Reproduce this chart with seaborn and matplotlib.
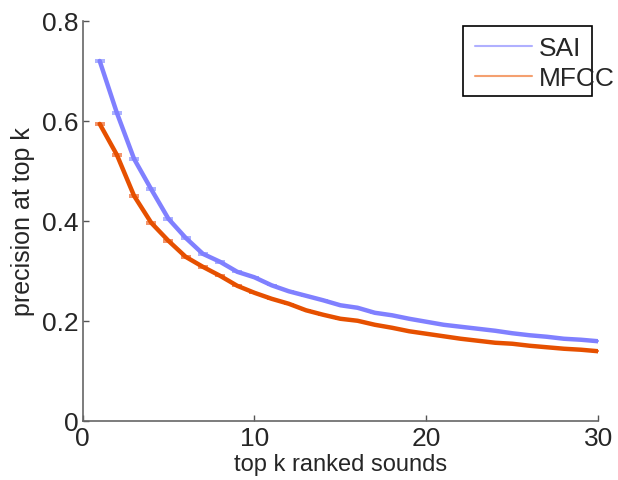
import numpy as np
import pandas as pd
import matplotlib
matplotlib.use("Agg")
import matplotlib.pyplot as plt
import seaborn as sns
from matplotlib.lines import Line2D
from matplotlib.patches import Rectangle

# precision at top k
k = list(range(1, 31))
sai = [0.720, 0.616, 0.524, 0.463, 0.404, 0.366, 0.334, 0.318, 0.298, 0.287,
       0.271, 0.259, 0.250, 0.241, 0.231, 0.226, 0.216, 0.211, 0.204, 0.198,
       0.192, 0.188, 0.184, 0.180, 0.175, 0.171, 0.168, 0.164, 0.162, 0.159]
mfcc = [0.594, 0.532, 0.450, 0.396, 0.360, 0.328, 0.308, 0.290, 0.270, 0.256,
        0.244, 0.234, 0.221, 0.212, 0.204, 0.200, 0.192, 0.186, 0.179, 0.174,
        0.169, 0.164, 0.160, 0.156, 0.154, 0.150, 0.147, 0.144, 0.142, 0.139]
sai_err = [0.002, 0.002, 0.002, 0.002, 0.002, 0.002, 0.002, 0.002, 0.001, 0.0,
           0, 0, 0, 0, 0, 0, 0, 0, 0, 0, 0, 0, 0, 0, 0, 0, 0, 0, 0, 0]
mfcc_err = [0.002, 0.002, 0.002, 0.002, 0.002, 0.002, 0.002, 0.001, 0.001, 0.0,
            0, 0, 0, 0, 0, 0, 0, 0, 0, 0, 0, 0, 0, 0, 0, 0, 0, 0, 0, 0]

sai_col = "#8080ff"
mfcc_col = "#e65000"

sns.set_style("ticks")
plt.rcParams["font.family"] = ["Liberation Sans", "DejaVu Sans"]

df = pd.DataFrame({
    "k": k + k,
    "precision": sai + mfcc,
    "method": ["SAI"] * 30 + ["MFCC"] * 30,
})

fig = plt.figure(figsize=(6.18, 4.81), dpi=100)
ax = fig.add_axes([0.1335, 0.1233, 0.8346, 0.831])

# small error bars (mostly hidden under the thick lines)
ax.errorbar(k, sai, yerr=sai_err, fmt="none", ecolor="#9ca4ff",
            elinewidth=1, capsize=3.3, capthick=1.2, zorder=1)
ax.errorbar(k, mfcc, yerr=mfcc_err, fmt="none", ecolor="#f08050",
            elinewidth=1, capsize=3.3, capthick=1.2, zorder=1)

sns.lineplot(data=df, x="k", y="precision", hue="method",
             palette={"SAI": sai_col, "MFCC": mfcc_col},
             linewidth=3.2, legend=False, ax=ax, zorder=2)

ax.set_xlim(0, 30)
ax.set_ylim(0, 0.8)
ax.set_xticks([0, 10, 20, 30])
ax.set_yticks([0, 0.2, 0.4, 0.6, 0.8])
ax.set_yticklabels(["0", "0.2", "0.4", "0.6", "0.8"])
ax.set_xlabel("top k ranked sounds", fontsize=17, labelpad=2)
ax.set_ylabel("precision at top k", fontsize=18, labelpad=5)
ax.tick_params(direction="in", length=4, width=1, labelsize=19,
               color="#555555")
ax.tick_params(axis="x", pad=4)
ax.tick_params(axis="y", pad=3)
for side in ["top", "right"]:
    ax.spines[side].set_visible(False)
for side in ["left", "bottom"]:
    ax.spines[side].set_color("#666666")
    ax.spines[side].set_linewidth(1.2)

# legend: lighter thin lines, box narrower than the text (as in the original)
handles = [Line2D([], [], color="#b0b0ff", lw=1.5),
           Line2D([], [], color="#f4a070", lw=1.5)]
leg = ax.legend(handles, ["SAI", "MFCC"], loc="center left",
                bbox_to_anchor=(0.761, 0.895), fontsize=19, frameon=False,
                handlelength=2.16, handletextpad=0.27, borderpad=0,
                labelspacing=0.22, borderaxespad=0)
ax.add_patch(Rectangle((0.7377, 0.8125), 0.250, 0.175, transform=ax.transAxes,
                       fill=False, edgecolor="black", linewidth=1.2,
                       clip_on=False, zorder=5))

fig.savefig("out.png", dpi=100)
